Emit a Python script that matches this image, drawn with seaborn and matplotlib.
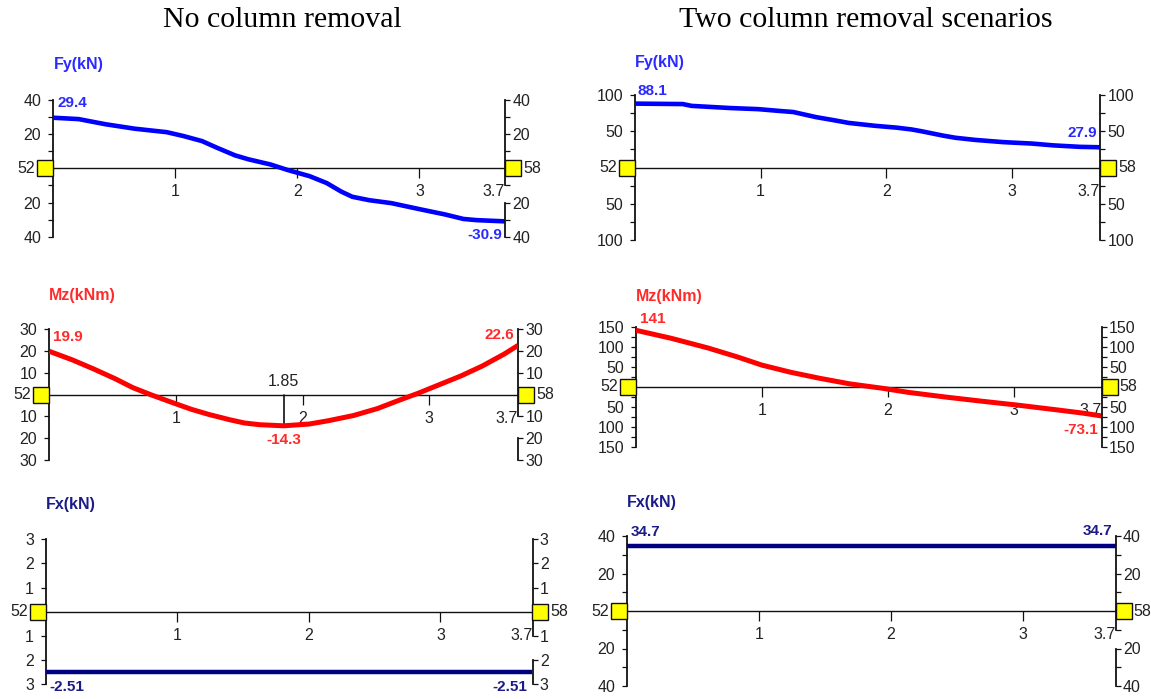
import matplotlib
matplotlib.use("Agg")
import matplotlib.pyplot as plt
import seaborn as sns
from matplotlib.markers import MarkerStyle
from matplotlib.transforms import Affine2D

W, H, DPI = 1151, 699, 100
PT = 72 / DPI  # points per pixel

SPAN = 3.7
NODE_LEFT, NODE_RIGHT = "52", "58"
X_TICKS = [1, 2, 3]

# Fy (kN), no column removal
fy_no_x = [0, 0.21, 0.43, 0.67, 0.93, 1.07, 1.22, 1.34, 1.49, 1.6, 1.78, 1.92,
           2.1, 2.24, 2.36, 2.45, 2.59, 2.77, 3.0, 3.21, 3.36, 3.47, 3.7]
fy_no_y = [29.4, 28.6, 25.6, 23.0, 21.0, 18.7, 15.8, 12.0, 7.5, 5.2, 2.2, -1.0,
           -4.6, -8.6, -13.6, -16.6, -18.6, -20.3, -23.8, -26.9, -29.5, -30.2, -30.9]

# Fy (kN), two column removal
fy_two_x = [0, 0.38, 0.45, 0.76, 0.98, 1.15, 1.26, 1.44, 1.59, 1.7, 1.91, 2.08,
            2.2, 2.28, 2.45, 2.55, 2.71, 2.93, 3.16, 3.33, 3.54, 3.7]
fy_two_y = [88.1, 87.5, 85, 82, 80.5, 78, 76.5, 69.5, 65, 61.5, 57.5, 55,
            52.5, 50, 44, 41, 38, 35, 33, 30.5, 28.5, 27.9]

# Mz (kNm), no column removal
mz_no_x = [0, 0.18, 0.35, 0.52, 0.66, 0.8, 0.97, 1.12, 1.26, 1.43, 1.54, 1.66,
           1.85, 2.05, 2.2, 2.4, 2.59, 2.76, 2.91, 3.08, 3.25, 3.42, 3.59, 3.7]
mz_no_y = [19.9, 16.0, 11.8, 7.3, 3.2, 0.0, -3.6, -6.7, -9.1, -11.6, -13.0, -13.8,
           -14.3, -13.5, -12.0, -9.6, -6.4, -2.6, 0.6, 4.6, 8.6, 13.2, 18.6, 22.6]

# Mz (kNm), two column removal
mz_two_x = [0, 0.28, 0.57, 0.8, 1.0, 1.23, 1.46, 1.7, 1.96, 2.16, 2.45, 2.74,
            3.03, 3.32, 3.55, 3.7]
mz_two_y = [141, 121, 97, 75, 54, 36, 21, 7, -4, -14, -25.5, -36,
            -46, -57, -66, -73.1]

# Fx (kN)
fx_no_x = [0, 3.7]
fx_no_y = [-2.51, -2.51]
fx_two_x = [0, 3.7]
fx_two_y = [34.7, 34.7]

BLUE = "#0000ff"
RED = "#ff0000"
NAVY = "#000080"
AXIS = "#111111"
TXT = "#222222"

sns.set_style("white")
plt.rcParams["font.family"] = ["Liberation Sans", "DejaVu Sans"]

fig = plt.figure(figsize=(W / DPI, H / DPI), dpi=DPI)
fig.patch.set_facecolor("white")

left_sq = MarkerStyle("s", transform=Affine2D().translate(-0.5, 0))
right_sq = MarkerStyle("s", transform=Affine2D().translate(0.5, 0))


def fmt(v):
    return f"{v:g}"


def panel(box, xs, ys, ymax, ticks, shown, title, color, tcolor,
          lw=3.3, gap=None, title_d=(0, 34), labels=(), mark_min=False):
    x0, x1, ytop, ybot = box
    ax = fig.add_axes([x0 / W, 1 - ybot / H, (x1 - x0) / W, (ybot - ytop) / H])
    ax.set_xlim(0, SPAN)
    ax.set_ylim(-ymax, ymax)
    ax.patch.set_alpha(0)

    sns.lineplot(x=xs, y=ys, ax=ax, color=color, linewidth=lw, zorder=3,
                 solid_capstyle="butt")

    ylabels = [fmt(abs(t)) if abs(t) in shown else "" for t in ticks]

    ax.spines["top"].set_visible(False)
    ax.spines["bottom"].set_position(("data", 0))
    for s in ("left", "right", "bottom"):
        ax.spines[s].set_color(AXIS)
    ax.spines["left"].set_linewidth(1.3)
    ax.spines["bottom"].set_linewidth(1.0)
    ax.spines["right"].set_linewidth(1.3)

    ax.set_yticks(ticks)
    ax.set_yticklabels(ylabels)
    ax.tick_params(axis="y", left=True, right=False, direction="out", length=3.6,
                   width=0.9, pad=5, labelsize=11.5, labelcolor=TXT, color=AXIS)

    ax.set_xticks(X_TICKS + [SPAN])
    ax.set_xticklabels([fmt(t) for t in X_TICKS] + [fmt(SPAN)])
    ax.tick_params(axis="x", bottom=True, direction="out", length=7.2, width=0.9,
                   pad=4.5, labelsize=11.5, labelcolor=TXT, color=AXIS)
    ax.get_xticklabels()[-1].set_ha("right")
    ax.xaxis.get_major_ticks()[-1].tick1line.set_visible(False)

    tw = ax.twinx()
    tw.set_ylim(-ymax, ymax)
    for s in ("top", "left", "bottom"):
        tw.spines[s].set_visible(False)
    tw.spines["right"].set_color(AXIS)
    tw.spines["right"].set_linewidth(1.3)
    if gap is not None:
        ax.spines["right"].set_bounds(gap[1], ymax)
        tw.spines["right"].set_bounds(-ymax, gap[0])
    else:
        ax.spines["right"].set_visible(False)
    tw.set_yticks(ticks)
    tw.set_yticklabels(ylabels)
    tw.tick_params(axis="y", right=True, left=False, direction="out", length=3.8,
                   width=0.9, pad=1.5, labelsize=11.5, labelcolor=TXT, color=AXIS)

    # node markers at both beam ends
    ax.plot([xs[0]], [0], marker=left_sq, ms=11.5, mfc="#ffff00", mec=AXIS,
            mew=1.0, ls="none", clip_on=False, zorder=6)
    ax.plot([xs[-1]], [0], marker=right_sq, ms=11.5, mfc="#ffff00", mec=AXIS,
            mew=1.0, ls="none", clip_on=False, zorder=6)
    ax.annotate(NODE_LEFT, (xs[0], 0), xytext=(-18 * PT, 0), textcoords="offset points",
                ha="right", va="center", fontsize=11.5, color=TXT, annotation_clip=False)
    ax.annotate(NODE_RIGHT, (xs[-1], 0), xytext=(18 * PT, 0), textcoords="offset points",
                ha="left", va="center", fontsize=11.5, color=TXT, annotation_clip=False)

    ax.annotate(title, (0, ymax), xytext=(title_d[0] * PT, title_d[1] * PT),
                textcoords="offset points", ha="left", va="center", fontsize=11.5,
                fontweight="bold", color=tcolor, annotation_clip=False)

    # end values
    (sdx, sdy), (edx, edy) = labels[:2]
    ax.annotate(fmt(ys[0]), (xs[0], ys[0]), xytext=(sdx * PT, sdy * PT),
                textcoords="offset points", ha="left", va="center", fontsize=11,
                fontweight="bold", color=tcolor, annotation_clip=False, zorder=7)
    ax.annotate(fmt(ys[-1]), (xs[-1], ys[-1]), xytext=(edx * PT, edy * PT),
                textcoords="offset points", ha="right", va="center", fontsize=11,
                fontweight="bold", color=tcolor, annotation_clip=False, zorder=7)

    if mark_min:
        i = ys.index(min(ys))
        ax.plot([xs[i], xs[i]], [0, ys[i]], color=AXIS, lw=1.2, zorder=2.6)
        ax.annotate(fmt(xs[i]), (xs[i], 0), xytext=(0, 13 * PT), textcoords="offset points",
                    ha="center", va="center", fontsize=11.5, color=TXT)
        ax.annotate(fmt(ys[i]), (xs[i], ys[i]), xytext=(0, -14 * PT),
                    textcoords="offset points", ha="center", va="center", fontsize=11,
                    fontweight="bold", color=tcolor)
    return ax


FY_T = "#2a2aff"
MZ_T = "#ff2a2a"
FX_T = "#1c1c88"

panel((53, 505, 99.5, 237), fy_no_x, fy_no_y, 40,
      [-40, -30, -20, -10, 10, 20, 30, 40], {20, 40}, "Fy(kN)", BLUE, FY_T,
      gap=(-20, -10), title_d=(1, 34.5), labels=((4, 15), (-3, -14)))

panel((635, 1100, 95, 240), fy_two_x, fy_two_y, 100,
      [-100, -75, -50, -25, 25, 50, 75, 100], {50, 100}, "Fy(kN)", BLUE, FY_T,
      title_d=(0, 33), labels=((3, 13), (-3, 14)))

panel((49.3, 518, 329.3, 460), mz_no_x, mz_no_y, 30,
      [-30, -20, -10, 10, 20, 30], {10, 20, 30}, "Mz(kNm)", RED, MZ_T, lw=3.6,
      gap=(-20, -10), title_d=(0, 34), labels=((4, 14), (-4, 10)), mark_min=True)

panel((636, 1101.7, 326.7, 446.7), mz_two_x, mz_two_y, 150,
      [-150, -125, -100, -75, -50, -25, 25, 50, 75, 100, 125, 150], {50, 100, 150},
      "Mz(kNm)", RED, MZ_T, lw=3.6, title_d=(0, 30), labels=((4, 11), (-4, -14.5)))

panel((46, 532.5, 539.3, 684.3), fx_no_x, fx_no_y, 3,
      [-3, -2, -1, 1, 2, 3], {1, 2, 3}, "Fx(kN)", NAVY, FX_T, lw=3.2,
      gap=(-2, -1), title_d=(0, 35), labels=((3, -15), (-5, -15)))

panel((627, 1115.5, 536, 686), fx_two_x, fx_two_y, 40,
      [-40, -30, -20, -10, 10, 20, 30, 40], {20, 40}, "Fx(kN)", NAVY, FX_T, lw=3.2,
      gap=(-20, -10), title_d=(0, 33), labels=((3.5, 14), (-3, 15)))

fig.text(282 / W, 1 - 20 / H, "No column removal", ha="center", va="center",
         fontsize=21.5, family="Liberation Serif", color="black")
fig.text(866 / W, 1 - 20 / H, "Two column removal scenarios", ha="center", va="center",
         fontsize=21.5, family="Liberation Serif", color="black")

fig.savefig("out.png", dpi=DPI, facecolor="white")
